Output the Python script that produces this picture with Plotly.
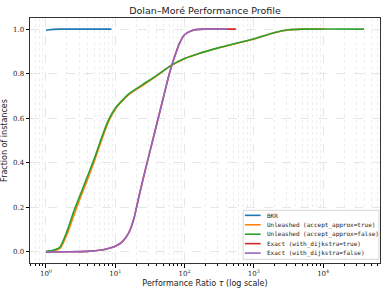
import plotly.graph_objects as go

# ---- data ----
bkr_tau = [1.0, 1.12, 1.26, 1.6, 2.5, 4.0, 8.8]
bkr_frac = [0.995, 0.997, 0.999, 1.0, 1.0, 1.0, 1.0]

ua_true_tau = [1.0, 1.26, 1.6, 2.05, 2.6, 3.25, 4.1, 5.1, 6.4, 8.0, 10.0, 12.6, 15.8, 25.1, 39.8, 63.1, 100, 158, 316, 1000, 2000, 3160, 5010, 10500]
ua_true_frac = [0.0, 0.004, 0.015, 0.085, 0.175, 0.255, 0.335, 0.415, 0.505, 0.585, 0.64, 0.677, 0.707, 0.748, 0.790, 0.835, 0.867, 0.889, 0.916, 0.956, 0.984, 0.996, 1.0, 1.0]

ua_false_tau = [1.0, 1.26, 1.58, 2.0, 2.51, 3.16, 3.98, 5.01, 6.31, 7.94, 10.0, 12.6, 15.8, 25.1, 39.8, 63.1, 100, 158, 316, 1000, 2000, 3160, 5010, 39000]
ua_false_frac = [0.003, 0.007, 0.02, 0.09, 0.18, 0.26, 0.34, 0.42, 0.51, 0.59, 0.645, 0.68, 0.71, 0.752, 0.792, 0.836, 0.868, 0.89, 0.917, 0.957, 0.985, 0.997, 1.0, 1.0]

ex_true_tau = [1.0, 2.0, 3.98, 6.31, 7.94, 10.0, 12.6, 15.8, 18.6, 21.4, 25.1, 31.6, 39.8, 50.1, 60.3, 70.8, 84.1, 100, 126, 158, 200, 410, 550]
ex_true_frac = [0.0, 0.0005, 0.002, 0.008, 0.015, 0.025, 0.045, 0.088, 0.15, 0.233, 0.325, 0.45, 0.575, 0.70, 0.80, 0.87, 0.935, 0.975, 0.993, 0.999, 1.0, 1.0, 1.0]

ex_false_tau = [1.0, 2.0, 3.98, 6.31, 7.94, 10.0, 12.6, 15.8, 18.6, 21.4, 25.1, 31.6, 39.8, 50.1, 60.3, 70.8, 84.1, 100, 126, 158, 200, 410]
ex_false_frac = [0.0, 0.0005, 0.002, 0.008, 0.015, 0.025, 0.045, 0.088, 0.15, 0.233, 0.325, 0.45, 0.575, 0.70, 0.80, 0.87, 0.935, 0.975, 0.993, 0.999, 1.0, 1.0]

series_names = ["BKR", "Unleashed (accept_approx=true)", "Unleashed (accept_approx=false)",
                "Exact (with_dijkstra=true)", "Exact (with_dijkstra=false)"]
series_colors = ["#1f77b4", "#ff7f0e", "#2ca02c", "#d62728", "#9467bd"]
series_x = [bkr_tau, ua_true_tau, ua_false_tau, ex_true_tau, ex_false_tau]
series_y = [bkr_frac, ua_true_frac, ua_false_frac, ex_true_frac, ex_false_frac]

y_ticks = [0.0, 0.2, 0.4, 0.6, 0.8, 1.0]
y_ticklabels = ["0.0", "0.2", "0.4", "0.6", "0.8", "1.0"]
x_ticks = [1, 10, 100, 1000, 10000]
x_ticklabels = ["10<sup>0</sup>", "10<sup>1</sup>", "10<sup>2</sup>", "10<sup>3</sup>", "10<sup>4</sup>"]

fig = go.Figure()
for name, col, xs, ys in zip(series_names, series_colors, series_x, series_y):
    fig.add_trace(go.Scatter(x=xs, y=ys, mode="lines", name=name,
                             line=dict(color=col, width=1.6, shape="spline", smoothing=0.6),
                             showlegend=False, hoverinfo="skip"))

minor_vals = [m * 10 ** k for k in range(-1, 5) for m in range(2, 10)]

grid_col = "#e6e6e6"
fig.update_xaxes(type="log", range=[-0.23, 4.82], automargin=False,
                 tickvals=x_ticks, ticktext=x_ticklabels,
                 ticks="outside", ticklen=3.5, tickwidth=0.8, tickcolor="black",
                 showline=True, linecolor="#333333", linewidth=1, mirror=True,
                 showgrid=True, gridcolor=grid_col, griddash="dash", gridwidth=0.7,
                 zeroline=False,
                 minor=dict(tickvals=minor_vals, ticks="outside", ticklen=2, tickcolor="black",
                            tickwidth=0.6, showgrid=True, gridcolor="#eeeeee", griddash="dot", gridwidth=0.6),
                 tickfont=dict(family="DejaVu Serif", size=7, color="#222"),
                 title=dict(text="Performance Ratio <i>τ</i> (log scale)",
                            font=dict(family="DejaVu Sans", size=8, color="#222"), standoff=3))
fig.update_yaxes(range=[-0.05, 1.05], tickvals=y_ticks, ticktext=y_ticklabels, automargin=False,
                 ticks="outside", ticklen=3.5, tickwidth=0.8, tickcolor="black",
                 showline=True, linecolor="#333333", linewidth=1, mirror=True,
                 showgrid=True, gridcolor=grid_col, griddash="dash", gridwidth=0.7,
                 zeroline=False,
                 tickfont=dict(family="DejaVu Serif", size=7, color="#222"),
                 title=dict(text="Fraction of instances",
                            font=dict(family="DejaVu Sans", size=8, color="#222"), standoff=6))

# manual compact legend (lower right)
shapes = [dict(type="rect", xref="paper", yref="paper", x0=0.609, x1=0.997, y0=0.015, y1=0.215,
               line=dict(color="#cccccc", width=0.8), fillcolor="rgba(255,255,255,0.85)", layer="above")]
annotations = []
y0 = 0.1945
step = 0.0385
for i, (name, col) in enumerate(zip(series_names, series_colors)):
    yy = y0 - i * step
    shapes.append(dict(type="line", xref="paper", yref="paper", x0=0.614, x1=0.659, y0=yy, y1=yy,
                       line=dict(color=col, width=1.6), layer="above"))
    annotations.append(dict(text=name, xref="paper", yref="paper", x=0.672, y=yy,
                            xanchor="left", yanchor="middle", showarrow=False,
                            font=dict(family="DejaVu Sans Mono", size=6, color="#222")))

fig.update_layout(width=389, height=292,
                  margin=dict(l=30, r=9, t=18, b=29),
                  paper_bgcolor="white", plot_bgcolor="white",
                  title=dict(text="Dolan–Moré Performance Profile", x=0.527, xanchor="center",
                             y=0.962, yanchor="middle", automargin=False,
                             font=dict(family="DejaVu Sans", size=9.5, color="#222")),
                  shapes=shapes, annotations=annotations, showlegend=False)

fig.write_html("out.html", config={"displayModeBar": False},
               post_script="document.body.style.margin='0';document.body.style.padding='0';document.body.style.overflow='hidden';")
